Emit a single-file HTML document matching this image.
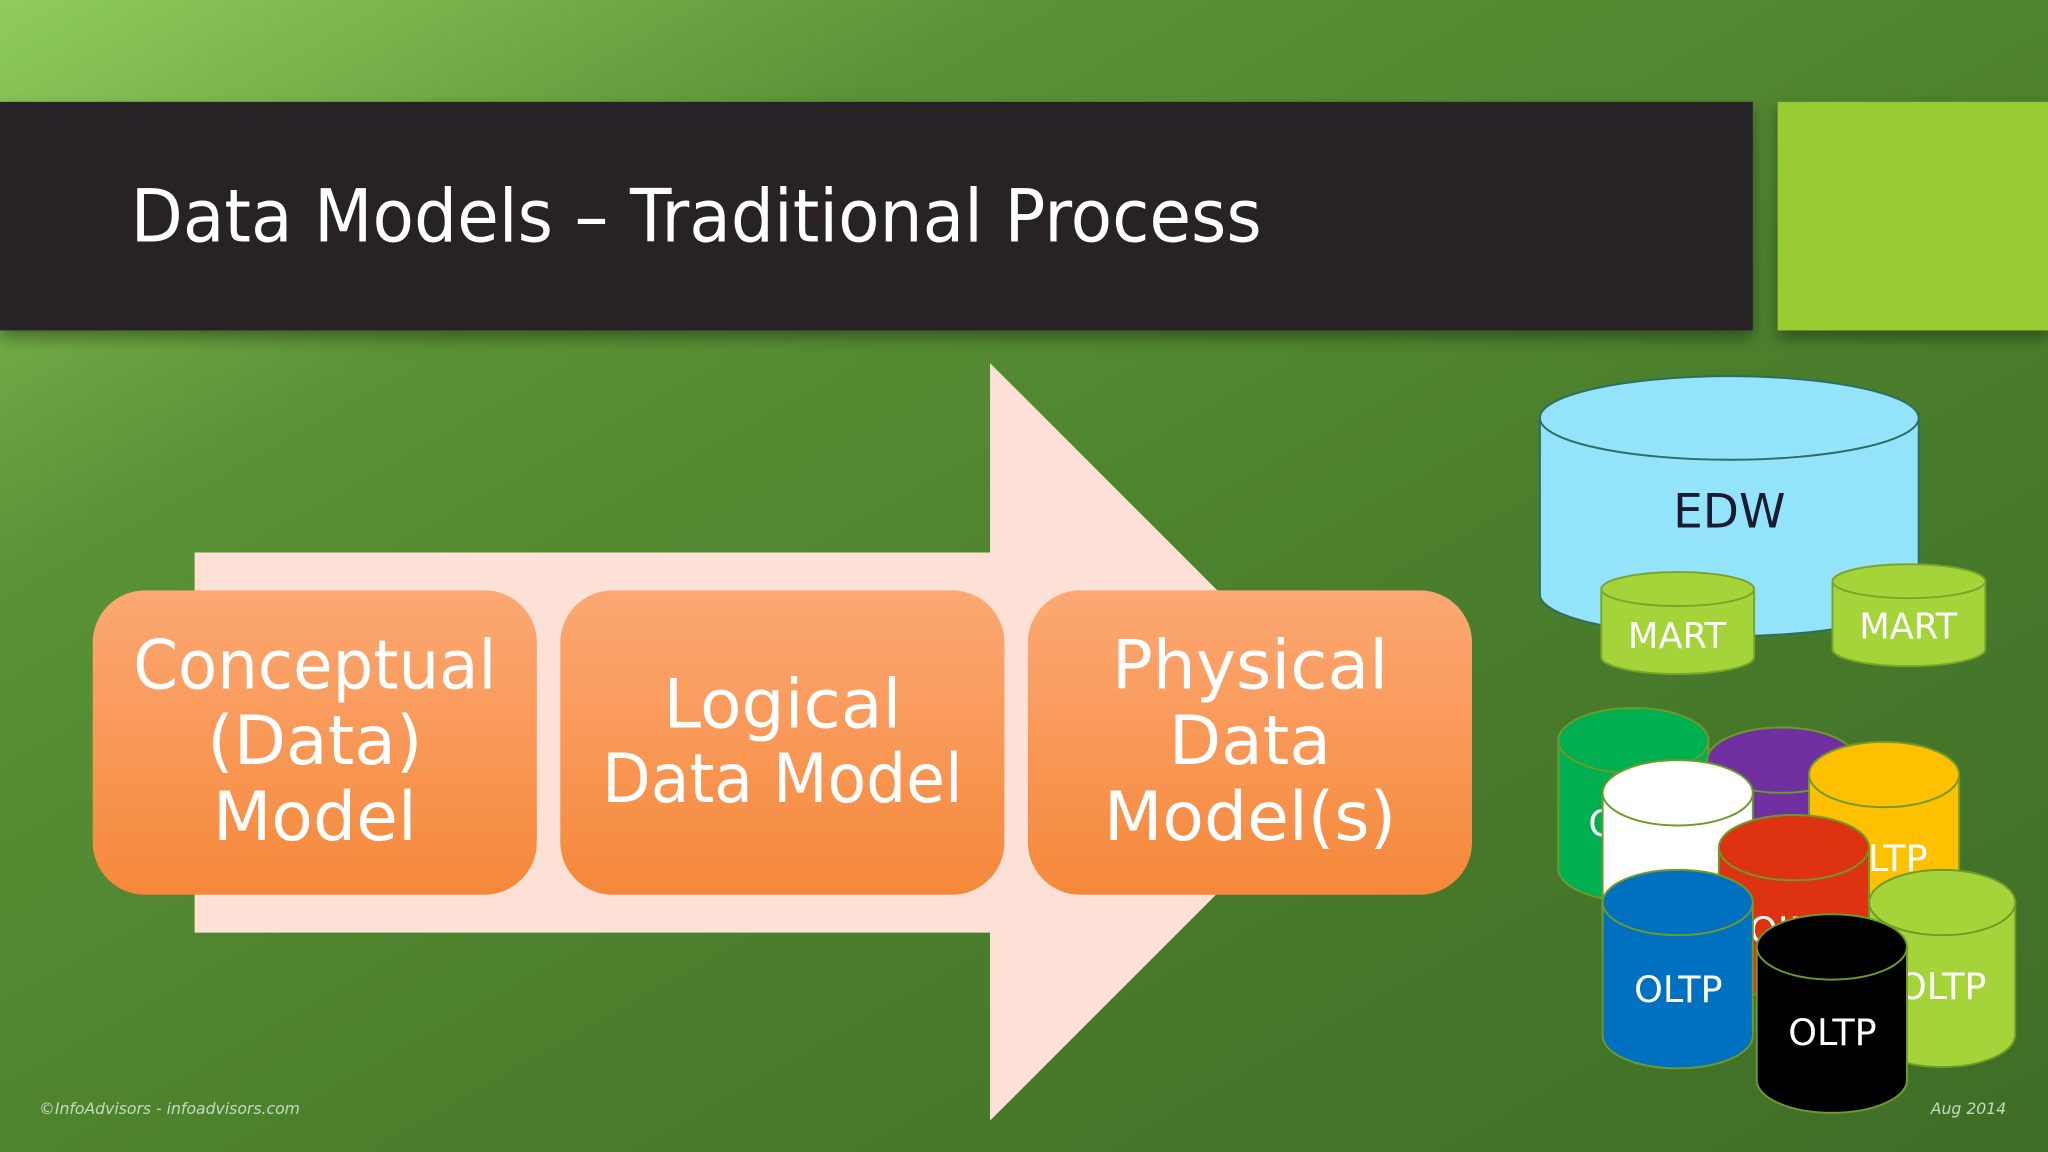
<!DOCTYPE html>
<html><head><meta charset="utf-8"><style>html,body{margin:0;padding:0;overflow:hidden;background:#4a7e2e}svg{display:block}</style></head>
<body>
<svg width="2048" height="1152" viewBox="0 0 1568 882" xmlns="http://www.w3.org/2000/svg" font-family="'DejaVu Sans','Liberation Sans',sans-serif">
<defs>
<linearGradient id="bg" x1="0" y1="0" x2="1" y2="1">
<stop offset="0" stop-color="#8fcc5c"/><stop offset="0.25" stop-color="#5a9236"/><stop offset="0.6" stop-color="#4a7e2c"/><stop offset="1" stop-color="#3f6d26"/>
</linearGradient>
<linearGradient id="or" x1="0" y1="0" x2="0" y2="1">
<stop offset="0" stop-color="#fca874"/><stop offset="1" stop-color="#f5883a"/>
</linearGradient>
<filter id="sh" x="-5%" y="-5%" width="110%" height="130%"><feDropShadow dx="0" dy="6" stdDeviation="6" flood-opacity="0.35"/></filter>
</defs>
<rect width="1568" height="882" fill="url(#bg)"/>
<rect x="0" y="78" width="1342" height="175" fill="#252326" filter="url(#sh)"/>
<rect x="1361" y="78" width="207" height="175" fill="#99cc33" filter="url(#sh)"/>
<text x="100" y="185" fill="#fff" font-size="56" textLength="866" lengthAdjust="spacingAndGlyphs">Data Models – Traditional Process</text>

<polygon points="149,423 758,423 758,278 1048,568 758,858 758,714 149,714" fill="#fde0d6"/>

<g fill="url(#or)">
<rect x="71" y="452" width="340" height="233" rx="40"/>
<rect x="429" y="452" width="340" height="233" rx="40"/>
<rect x="787" y="452" width="340" height="233" rx="40"/>
</g>
<g fill="#fff" font-size="52" text-anchor="middle">
<text x="241" y="527" textLength="278" lengthAdjust="spacingAndGlyphs">Conceptual</text>
<text x="241" y="585">(Data)</text>
<text x="241" y="643">Model</text>
<text x="599" y="557">Logical</text>
<text x="599" y="614" textLength="276" lengthAdjust="spacingAndGlyphs">Data Model</text>
<text x="957" y="527">Physical</text>
<text x="957" y="585">Data</text>
<text x="957" y="643">Model(s)</text>
</g>

<!-- EDW -->
<g stroke="#2e6e60" stroke-width="1.5">
<path d="M1179,320 L1179,455 A145,32 0 0 0 1469,455 L1469,320 Z" fill="#93e4fb"/>
<ellipse cx="1324" cy="320" rx="145" ry="32" fill="#93e4fb"/>
</g>
<text x="1324" y="404" font-size="36" fill="#1a1a30" text-anchor="middle">EDW</text>

<g stroke="#7aa52a" stroke-width="1.5" fill="#a5d43a">
<path d="M1226,451 L1226,503 A58.5,13 0 0 0 1343,503 L1343,451 Z"/>
<ellipse cx="1284.5" cy="451" rx="58.5" ry="13"/>
<path d="M1403,445 L1403,497 A58.5,13 0 0 0 1520,497 L1520,445 Z"/>
<ellipse cx="1461.5" cy="445" rx="58.5" ry="13"/>
</g>
<g fill="#fff" font-size="27" text-anchor="middle">
<text x="1284" y="496">MART</text>
<text x="1461" y="489">MART</text>
</g>

<g stroke="#6f9a2a" stroke-width="1.5" font-size="28" text-anchor="middle">
<!-- green -->
<path d="M1193,567 L1193,665 A57.5,25 0 0 0 1308,665 L1308,567 Z" fill="#00b050"/>
<ellipse cx="1250.5" cy="567" rx="57.5" ry="25" fill="#00b050"/>
<text x="1250" y="640" fill="#fff" stroke="none">OLTP</text>
<!-- purple -->
<path d="M1307,582 L1307,680 A57,25 0 0 0 1421,680 L1421,582 Z" fill="#7030a0"/>
<ellipse cx="1364" cy="582" rx="57" ry="25" fill="#7030a0"/>
<!-- white -->
<path d="M1227,607 L1227,700 A57.5,25 0 0 0 1342,700 L1342,607 Z" fill="#ffffff"/>
<ellipse cx="1284.5" cy="607" rx="57.5" ry="25" fill="#ffffff"/>
<!-- yellow -->
<path d="M1385,593 L1385,690 A57.5,25 0 0 0 1500,690 L1500,593 Z" fill="#ffc000"/>
<ellipse cx="1442.5" cy="593" rx="57.5" ry="25" fill="#ffc000"/>
<text x="1442" y="667" fill="#fff" stroke="none">OLTP</text>
<!-- red -->
<path d="M1316,649 L1316,740 A57.5,25 0 0 0 1431,740 L1431,649 Z" fill="#dd3311"/>
<ellipse cx="1373.5" cy="649" rx="57.5" ry="25" fill="#dd3311"/>
<text x="1373" y="722" fill="#fff" stroke="none">OLTP</text>
<!-- light green -->
<path d="M1431,691 L1431,792 A56,25 0 0 0 1543,792 L1543,691 Z" fill="#a5d43a"/>
<ellipse cx="1487" cy="691" rx="56" ry="25" fill="#a5d43a"/>
<text x="1487" y="765" fill="#fff" stroke="none">OLTP</text>
<!-- blue -->
<path d="M1227,691 L1227,793 A57.5,25 0 0 0 1342,793 L1342,691 Z" fill="#0070c0"/>
<ellipse cx="1284.5" cy="691" rx="57.5" ry="25" fill="#0070c0"/>
<text x="1285" y="767" fill="#fff" stroke="none">OLTP</text>
<!-- black -->
<path d="M1345,725 L1345,827 A57.5,25 0 0 0 1460,827 L1460,725 Z" fill="#000"/>
<ellipse cx="1402.5" cy="725" rx="57.5" ry="25" fill="#000"/>
<text x="1403" y="800" fill="#fff" stroke="none">OLTP</text>
</g>

<text x="30" y="853" font-size="12" font-style="italic" fill="#c8d8c0">©InfoAdvisors - infoadvisors.com</text>
<text x="1536" y="853" font-size="12" font-style="italic" fill="#c8d8c0" text-anchor="end">Aug 2014</text>
</svg>
</body></html>
